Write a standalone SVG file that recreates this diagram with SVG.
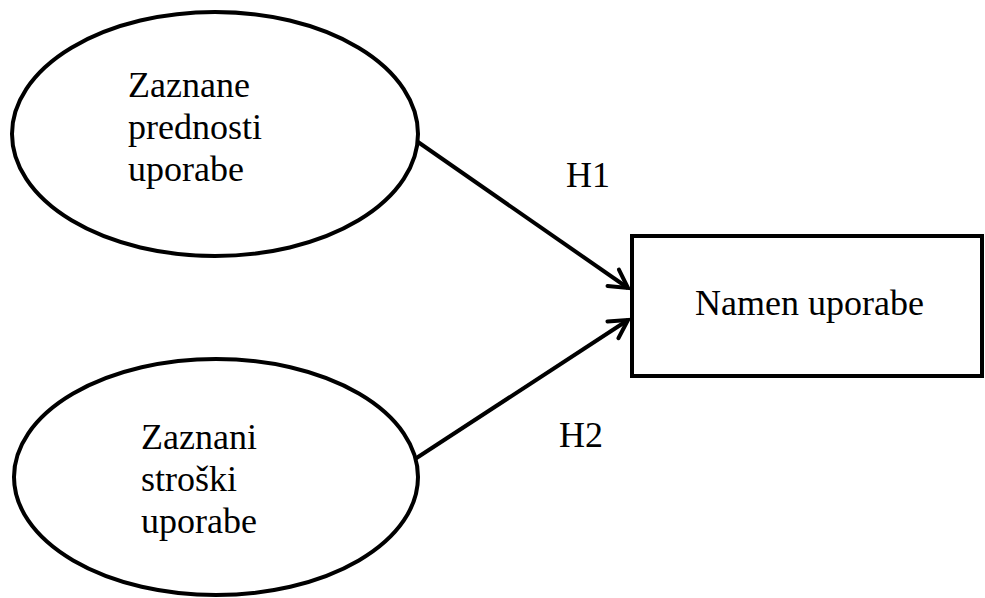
<svg xmlns="http://www.w3.org/2000/svg" width="985" height="598" viewBox="0 0 985 598">
<style>
.shape{fill:#fff;stroke:#000;stroke-width:4}
.t{font-family:"Liberation Serif","Times New Roman",serif;font-size:36px;fill:#000}
.c{stroke:#000;stroke-width:4;fill:none}
</style>
<defs>
<marker id="arr" markerUnits="userSpaceOnUse" markerWidth="30" markerHeight="30" refX="24" refY="12" orient="auto" viewBox="0 0 30 24">
<polyline points="6,2 24,12 6,22" fill="none" stroke="#000" stroke-width="4" stroke-linecap="round" stroke-linejoin="miter"/>
</marker>
</defs>
<rect width="985" height="598" fill="#fff"/>
<g id="connectors">
<line class="c" x1="418" y1="142" x2="628" y2="288" marker-end="url(#arr)"/>
<line class="c" x1="415" y1="459" x2="628" y2="320" marker-end="url(#arr)"/>
<text class="t" x="566" y="187">H1</text>
<text class="t" x="559" y="447">H2</text>
</g>
<g id="node-prednosti">
<ellipse class="shape" cx="215" cy="134" rx="203" ry="122"/>
<text class="t" x="128" y="97">Zaznane</text>
<text class="t" x="128" y="139">prednosti</text>
<text class="t" x="128" y="181">uporabe</text>
</g>
<g id="node-stroski">
<ellipse class="shape" cx="216" cy="477" rx="202" ry="118"/>
<text class="t" x="141" y="449">Zaznani</text>
<text class="t" x="141" y="491">stroški</text>
<text class="t" x="141" y="533">uporabe</text>
</g>
<g id="node-namen">
<rect class="shape" x="632" y="236" width="350" height="140"/>
<text class="t" x="695" y="315">Namen uporabe</text>
</g>
</svg>
